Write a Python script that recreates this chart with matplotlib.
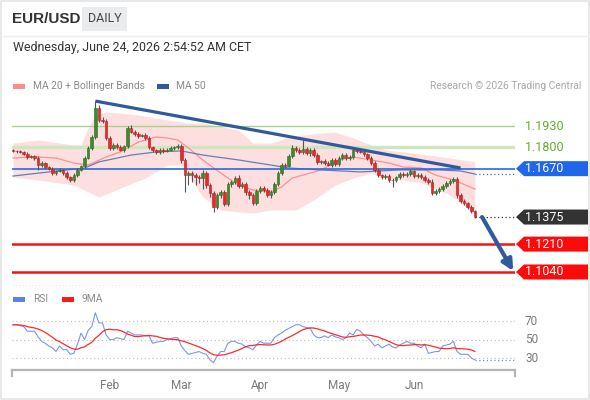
import numpy as np
import pandas as pd
import matplotlib
matplotlib.use('Agg')
import matplotlib.pyplot as plt
from matplotlib.patches import Rectangle, Polygon, FancyArrowPatch
from matplotlib.transforms import blended_transform_factory
from matplotlib.lines import Line2D

plt.rcParams['font.family'] = ['Roboto', 'DejaVu Sans']

# ---------------- data ----------------
dates = pd.bdate_range(end='2026-06-24', periods=130)
open0 = 1.1781
closes = [1.1778, 1.1775, 1.1772, 1.1759, 1.1741, 1.1747, 1.1735, 1.1692, 1.1704, 1.1680,
          1.1668, 1.1643, 1.1656, 1.1662, 1.1643, 1.1619, 1.1601, 1.1631, 1.1662, 1.1686,
          1.1735, 1.1796, 1.1863, 1.2040, 1.1967, 1.1960, 1.1857, 1.1796, 1.1814, 1.1802,
          1.1784, 1.1808, 1.1918, 1.1893, 1.1881, 1.1869, 1.1875, 1.1857, 1.1802, 1.1784,
          1.1772, 1.1784, 1.1780, 1.1786, 1.1796, 1.1802, 1.1808, 1.1723, 1.1631, 1.1643,
          1.1631, 1.1619, 1.1613, 1.1643, 1.1570, 1.1522, 1.1436, 1.1509, 1.1528, 1.1455,
          1.1576, 1.1589, 1.1613, 1.1564, 1.1576, 1.1528, 1.1509, 1.1461, 1.1534, 1.1552,
          1.1540, 1.1509, 1.1528, 1.1576, 1.1643, 1.1692, 1.1686, 1.1747, 1.1796, 1.1784,
          1.1772, 1.1790, 1.1765, 1.1784, 1.1753, 1.1711, 1.1714, 1.1704, 1.1692, 1.1723,
          1.1698, 1.1735, 1.1753, 1.1735, 1.1741, 1.1784, 1.1778, 1.1772, 1.1759, 1.1735,
          1.1704, 1.1662, 1.1631, 1.1619, 1.1625, 1.1601, 1.1598, 1.1619, 1.1637, 1.1631,
          1.1637, 1.1656, 1.1625, 1.1631, 1.1619, 1.1601, 1.1589, 1.1522, 1.1534, 1.1546,
          1.1564, 1.1583, 1.1595, 1.1607, 1.1509, 1.1473, 1.1461, 1.1436, 1.1412, 1.1375]
wick_up = [6, 8, 6, 8, 10, 6, 8, 12, 10, 8,
           8, 10, 8, 12, 8, 10, 8, 10, 12, 8,
           10, 12, 15, 42, 20, 18, 12, 10, 15, 10,
           12, 8, 10, 18, 12, 10, 8, 12, 10, 8,
           8, 12, 10, 10, 15, 8, 12, 10, 12, 10,
           12, 15, 10, 18, 10, 12, 10, 15, 12, 10,
           15, 10, 12, 20, 10, 12, 10, 15, 12, 10,
           10, 15, 12, 10, 12, 10, 12, 15, 18, 10,
           12, 55, 10, 12, 10, 15, 10, 12, 15, 10,
           12, 10, 15, 12, 10, 18, 10, 12, 10, 8,
           10, 12, 10, 8, 10, 12, 10, 8, 10, 12,
           10, 12, 8, 10, 10, 12, 10, 15, 10, 12,
           10, 12, 10, 15, 10, 12, 10, 8, 10, 6]
wick_dn = [6, 8, 8, 6, 10, 8, 10, 30, 12, 10,
           8, 10, 12, 8, 10, 12, 15, 12, 10, 8,
           10, 8, 10, 12, 10, 12, 15, 12, 10, 10,
           8, 12, 10, 8, 12, 10, 8, 10, 12, 10,
           15, 10, 12, 8, 10, 12, 10, 20, 103, 60,
           40, 50, 30, 70, 20, 25, 30, 15, 20, 12,
           12, 15, 12, 10, 15, 20, 25, 15, 10, 12,
           12, 10, 15, 12, 10, 12, 10, 8, 10, 12,
           10, 12, 10, 15, 12, 10, 12, 10, 8, 12,
           10, 12, 10, 12, 10, 12, 10, 8, 12, 10,
           10, 12, 10, 15, 12, 10, 40, 12, 10, 12,
           10, 12, 10, 15, 12, 10, 12, 10, 12, 15,
           12, 10, 12, 10, 20, 12, 15, 10, 12, 8]

ma20_idx = [0, 7, 12, 17, 21, 26, 30, 35, 40, 43, 46, 49, 53, 58, 63, 67, 72, 75, 78, 83,
            86, 91, 95, 100, 105, 109, 114, 118, 123, 129]
ma20_val = [1.1735, 1.1741, 1.1735, 1.1704, 1.1692, 1.1741, 1.1772, 1.1832, 1.1863, 1.1857,
            1.1845, 1.1796, 1.1723, 1.1643, 1.1570, 1.1540, 1.1528, 1.1558, 1.1613, 1.1643,
            1.1662, 1.1723, 1.1741, 1.1723, 1.1704, 1.1680, 1.1674, 1.1631, 1.1601, 1.1546]
bb_up_idx = [0, 7, 17, 19, 21, 23, 26, 30, 35, 43, 49, 53, 63, 67, 72, 77, 81, 86, 90, 95,
             100, 104, 109, 116, 122, 129]
bb_up_val = [1.1826, 1.1845, 1.1814, 1.1814, 1.1918, 1.1997, 1.2015, 1.2009, 1.1997, 1.1967,
             1.1948, 1.1948, 1.1906, 1.1826, 1.1826, 1.1863, 1.1875, 1.1887, 1.1893, 1.1857,
             1.1814, 1.1784, 1.1772, 1.1753, 1.1735, 1.1711]
bb_lo_idx = [0, 7, 17, 24, 30, 37, 43, 47, 49, 53, 58, 63, 67, 72, 79, 84, 90, 95, 100, 104,
             109, 114, 122, 129]
bb_lo_val = [1.1619, 1.1601, 1.1570, 1.1497, 1.1552, 1.1613, 1.1692, 1.1692, 1.1631, 1.1497,
             1.1418, 1.1406, 1.1400, 1.1418, 1.1418, 1.1479, 1.1570, 1.1613, 1.1643, 1.1613,
             1.1601, 1.1583, 1.1509, 1.1394]
ma50_idx = [0, 10, 20, 24, 33, 40, 47, 53, 57, 63, 72, 77, 86, 97, 108, 119, 125, 129]
ma50_val = [1.1625, 1.1650, 1.1674, 1.1711, 1.1753, 1.1772, 1.1778, 1.1753, 1.1741, 1.1723,
            1.1692, 1.1674, 1.1662, 1.1650, 1.1662, 1.1662, 1.1656, 1.1637]

rsi = [66, 66, 65, 64, 59, 59, 59, 53, 48, 46, 43, 41, 37, 43, 39, 39, 34, 35, 45, 57,
       50, 60, 64, 79, 68, 68, 55, 50, 50, 52, 51, 50, 59, 57, 55, 55, 55, 54, 54, 46,
       47, 48, 48, 50, 51, 52, 52, 43, 38, 34, 35, 36, 37, 35, 34, 28, 25, 32, 37, 37,
       46, 48, 48, 46, 45, 42, 41, 39, 44, 48, 46, 46, 46, 52, 55, 57, 60, 62, 64, 66,
       66, 64, 63, 62, 55, 52, 52, 54, 52, 55, 53, 52, 50, 52, 57, 55, 61, 59, 55, 52,
       48, 43, 45, 41, 43, 45, 42, 41, 44, 46, 48, 46, 46, 43, 41, 45, 35, 36, 37, 37,
       43, 44, 45, 48, 37, 34, 34, 34, 30, 28]

trend_idx = [23, 125]
trend_val = [1.2082, 1.1674]
arrow_from = (131, 1.1375)
arrow_to = (139.7, 1.1046)

levels = [1.1930, 1.1800, 1.1670, 1.1375, 1.1210, 1.1040]
level_labels = ['1.1930', '1.1800', '1.1670', '1.1375', '1.1210', '1.1040']
rsi_levels = [70, 50, 30]
month_names = ['Feb', 'Mar', 'Apr', 'May', 'Jun']

# ---------------- figure ----------------
W, H = 590, 400
fig = plt.figure(figsize=(W / 100, H / 100), dpi=100)
fig.patch.set_facecolor('white')

def fx(px):
    return px / W

def fy(py):
    return 1 - py / H

ax = fig.add_axes([fx(12), fy(282), fx(503), 187 / H])
ax2 = fig.add_axes([fx(12), fy(370), fx(503), 60 / H])
for a in (ax, ax2):
    a.set_facecolor('none')
    for s in a.spines.values():
        s.set_visible(False)

n = len(closes)
x = np.arange(n)
c = np.array(closes)
o = np.array([open0] + closes[:-1])
hi = np.maximum(o, c) + np.array(wick_up) * 1e-4
lo = np.minimum(o, c) - np.array(wick_dn) * 1e-4

ax.set_xlim(-0.28, 140.2)
ax.set_ylim(1.0979, 1.2119)
ax.set_xticks([])
ax.set_yticks([])

# Bollinger band fill (MA20 + bands)
grid = np.arange(n)
up_i = np.interp(grid, bb_up_idx, bb_up_val)
lo_i = np.interp(grid, bb_lo_idx, bb_lo_val)
ax.fill_between(grid, lo_i, up_i, color='#fddcdc', alpha=0.9, lw=0, zorder=1)
ax.plot(ma20_idx, ma20_val, color='#ff8f8f', lw=0.9, zorder=3)
ax.plot(ma50_idx, ma50_val, color='#5f7fbf', lw=0.9, zorder=3)

# horizontal levels
ax.axhline(levels[0], color='#a5d38b', lw=1.0, zorder=2)
ax.axhline(levels[1], color='#cde6bd', lw=2.4, zorder=2)
ax.axhline(levels[2], color='#2a6ae0', lw=1.2, zorder=4)
ax.axhline(levels[4], color='#ff1010', lw=1.8, zorder=4)
ax.axhline(levels[5], color='#ff1010', lw=1.8, zorder=4)

# dotted extensions
ax.plot([n - 1, 140.2], [ma50_val[-1], ma50_val[-1]], ls=(0, (1, 2)), color='#3a6ccf', lw=0.9, zorder=3)
ax.plot([n - 1, 140.2], [closes[-1], closes[-1]], ls=(0, (1, 2)), color='#333333', lw=0.9, zorder=3)

# candles
up = c >= o
body_h = np.maximum(np.abs(c - o), 0.00025)
body_b = np.minimum(o, c)
ax.vlines(x, lo, hi, color='#555555', lw=0.8, zorder=5)
ax.bar(x[up], body_h[up], bottom=body_b[up], width=0.72, color='#3b8a2c',
       edgecolor='#2a6b1f', lw=0.4, zorder=6)
ax.bar(x[~up], body_h[~up], bottom=body_b[~up], width=0.72, color='#e42a2a',
       edgecolor='#c01818', lw=0.4, zorder=6)

# trend line and arrow
ax.plot(trend_idx, trend_val, color='#2f5a9e', lw=2.3, zorder=7, solid_capstyle='butt')
arr = FancyArrowPatch(arrow_from, arrow_to, arrowstyle='-|>', mutation_scale=16,
                      lw=3.0, color='#2f5a9e', zorder=8, clip_on=False, shrinkA=0, shrinkB=0)
ax.add_patch(arr)

# price labels at right
bt = blended_transform_factory(ax.transAxes, ax.transData)
ppx = (1.2119 - 1.0979) / 187.0  # price per pixel
axw = 503.0

def box_label(val, text, color):
    x0 = 1 + 9 / axw
    x1 = 1 + 73 / axw
    tip = 1 + 1 / axw
    hh = 7.5 * ppx
    poly = Polygon([(tip, val), (x0, val + hh), (x1, val + hh), (x1, val - hh), (x0, val - hh)],
                   closed=True, transform=bt, facecolor=color, edgecolor='none',
                   clip_on=False, zorder=9)
    ax.add_patch(poly)
    ax.text(1 + 10 / axw, val, text, transform=bt, color='white', fontsize=9,
            va='center', ha='left', clip_on=False, zorder=10)

ax.text(1 + 10 / axw, levels[0], level_labels[0], transform=bt, color='#62ad2a',
        fontsize=9, va='center', ha='left')
ax.text(1 + 10 / axw, levels[1], level_labels[1], transform=bt, color='#62ad2a',
        fontsize=9, va='center', ha='left')
box_label(levels[2], level_labels[2], '#1f66e8')
box_label(levels[3], level_labels[3], '#333333')
box_label(levels[4], level_labels[4], '#ff0a0a')
box_label(levels[5], level_labels[5], '#ff0a0a')

# ---------------- RSI panel ----------------
ax2.set_xlim(-0.28, 140.2)
ax2.set_ylim(17, 82)
ax2.set_yticks([])
rsi_s = pd.Series(rsi, dtype=float)
rsi_ma = rsi_s.rolling(9, min_periods=1).mean()
for lv in rsi_levels:
    ax2.axhline(lv, color='#bdbdbd', lw=0.8, ls=(0, (1, 2.5)), zorder=1)
    ax2.text(1 + 10 / axw, lv, str(lv), transform=blended_transform_factory(ax2.transAxes, ax2.transData),
             color='#7a7a7a', fontsize=8.5, va='center', ha='left')
ax2.plot(x, rsi_s, color='#7b96e8', lw=0.8, zorder=3)
ax2.plot(x, rsi_ma, color='#ff2a2a', lw=0.9, zorder=4)
ax2.plot([n - 1, 140.2], [rsi[-1], rsi[-1]], ls=(0, (1, 2)), color='#6f8fe6', lw=0.9, zorder=3)

ax2.spines['bottom'].set_visible(True)
ax2.spines['bottom'].set_color('#b5b5b5')
ax2.spines['bottom'].set_linewidth(1.6)
for xe in (0, 1):
    ax2.add_line(Line2D([xe, xe], [0, -0.1], transform=ax2.transAxes, color='#b5b5b5',
                        lw=1.6, clip_on=False))
month_pos = []
for m in [2, 3, 4, 5, 6]:
    month_pos.append(int(np.argmax(dates.month == m)))
ax2.set_xticks(month_pos)
ax2.set_xticklabels(month_names)
ax2.tick_params(axis='x', length=0, pad=6.5, labelsize=8.5, labelcolor='#7a7a7a')

# ---------------- header / legends ----------------
fig.add_artist(Rectangle((fx(1), fy(399)), fx(588), 398 / H, transform=fig.transFigure,
                         fill=False, edgecolor='#e4e4e4', lw=1.2))
fig.add_artist(Line2D([fx(1), fx(589)], [fy(36), fy(36)], transform=fig.transFigure,
                      color='#efefef', lw=1.0))
fig.add_artist(Line2D([fx(12), fx(515)], [fy(285), fy(285)], transform=fig.transFigure,
                      color='#e6e6e6', lw=0.8, ls=(0, (1, 2))))
fig.text(fx(12), fy(19), 'EUR/USD', fontsize=11, fontweight='bold', color='#333333',
         va='center', ha='left', family=['Liberation Sans', 'DejaVu Sans'])
fig.add_artist(Rectangle((fx(82), fy(31)), fx(45), 24 / H, transform=fig.transFigure,
                         facecolor='#e9ebed', edgecolor='none'))
fig.text(fx(104.5), fy(19), 'DAILY', fontsize=9, color='#444444', va='center', ha='center')
fig.text(fx(13), fy(48), 'Wednesday, June 24, 2026 2:54:52 AM CET', fontsize=8.9,
         color='#333333', va='center', ha='left')

def swatch(px, py, color):
    fig.add_artist(Rectangle((fx(px), fy(py + 2.5)), fx(12), 5 / H, transform=fig.transFigure,
                             facecolor=color, edgecolor='none'))

swatch(13, 86, '#ff8c8c')
fig.text(fx(33), fy(86), 'MA 20 + Bollinger Bands', fontsize=7.4, color='#8a8a8a', va='center')
swatch(157, 86, '#2f5a9e')
fig.text(fx(176), fy(86), 'MA 50', fontsize=7.4, color='#8a8a8a', va='center')
fig.text(fx(581), fy(86), 'Research \u00a9 2026 Trading Central', fontsize=7.4,
         color='#a8a8a8', va='center', ha='right')
swatch(13, 299, '#5b83e6')
fig.text(fx(33), fy(299), 'RSI', fontsize=7.4, color='#8a8a8a', va='center')
swatch(62, 299, '#ff1a1a')
fig.text(fx(82), fy(299), '9MA', fontsize=7.4, color='#8a8a8a', va='center')

fig.savefig('out.png', dpi=100, facecolor='white')
